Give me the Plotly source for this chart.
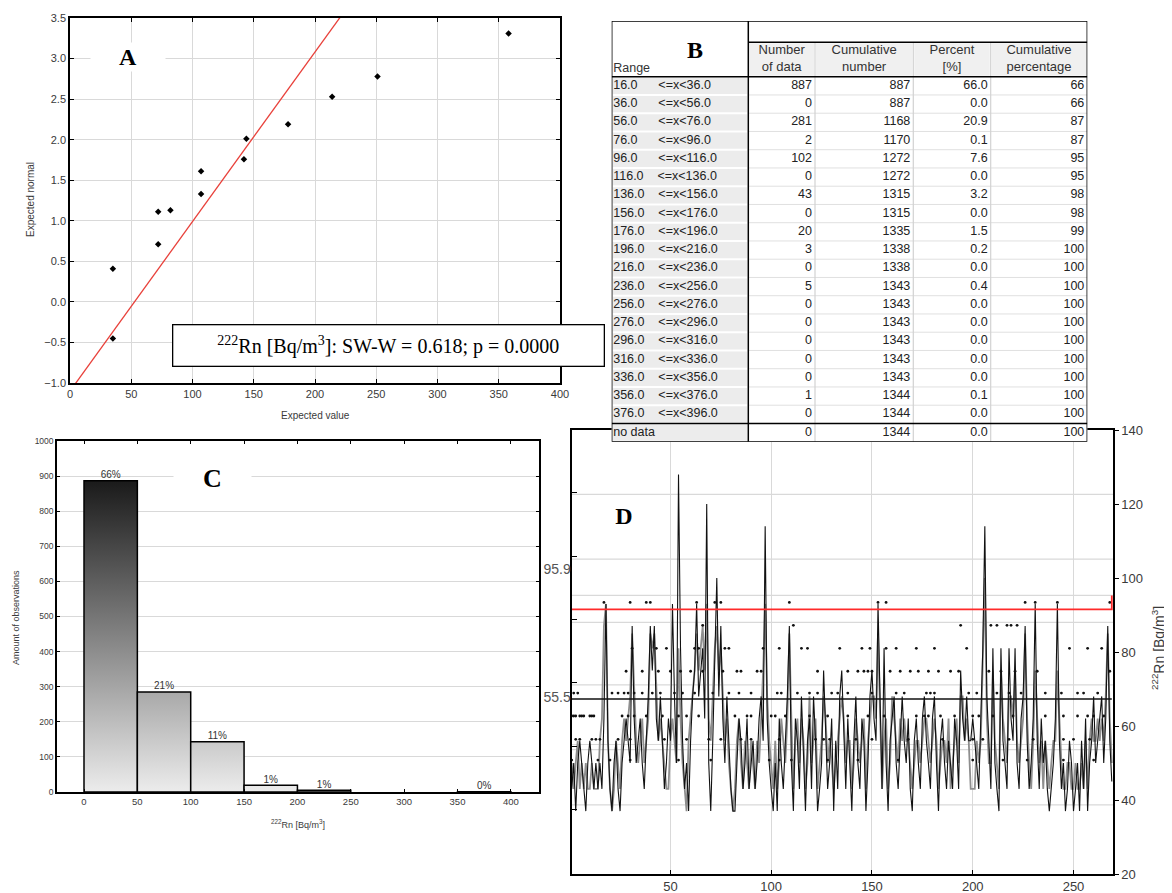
import plotly.graph_objects as go

# the page puts the figure 8px in from the top-left corner
PAGE_W, PAGE_H, OFF = 1172, 893, 8
W, H = PAGE_W - OFF, PAGE_H - OFF
SANS = "Liberation Sans, Arial, sans-serif"
SERIF = "Liberation Serif, Times New Roman, serif"
GRID = "#d9d9d9"
TXT = "#3a3a3a"

# ---- A: normal probability plot
pp_value = [35, 35, 72, 72, 82, 107, 107, 142, 144, 178, 214, 251, 358]
pp_normal = [0.41, -0.45, 1.11, 0.71, 1.13, 1.61, 1.33, 1.76, 2.01, 2.19, 2.53, 2.78, 3.31]
ref_intercept = -1.10
ref_slope = 0.0209
sw_text = "<sup>222</sup>Rn [Bq/m<sup>3</sup>]: SW-W = 0.618; p = 0.0000"

# ---- B: frequency table
rng_lo = [16, 36, 56, 76, 96, 116, 136, 156, 176, 196, 216, 236, 256, 276, 296, 316, 336, 356, 376]
n_data = [887, 0, 281, 2, 102, 0, 43, 0, 20, 3, 0, 5, 0, 0, 0, 0, 0, 1, 0, 0]
cum_n = [887, 887, 1168, 1170, 1272, 1272, 1315, 1315, 1335, 1338, 1338, 1343, 1343, 1343, 1343, 1343, 1343, 1344, 1344, 1344]
pct = [66.0, 0.0, 20.9, 0.1, 7.6, 0.0, 3.2, 0.0, 1.5, 0.2, 0.0, 0.4, 0.0, 0.0, 0.0, 0.0, 0.0, 0.1, 0.0, 0.0]
cum_pct = [66, 66, 87, 87, 95, 95, 98, 98, 99, 100, 100, 100, 100, 100, 100, 100, 100, 100, 100, 100]
col_heads = ["Number<br>of data", "Cumulative<br>number", "Percent<br>[%]", "Cumulative<br>percentage"]

# ---- C: histogram
bin_lo = [0, 50, 100, 150, 200, 250, 300, 350]
bin_hi = [50, 100, 150, 200, 250, 300, 350, 400]
bin_n = [887, 285, 143, 19, 5, 0, 0, 1]
bin_lab = ["66%", "21%", "11%", "1%", "1%", "", "", "0%"]

# ---- D: time series
series_black = [
    43, 50, 37, 50, 56, 50, 43, 37, 50, 56, 50, 43, 50, 43, 50, 43, 62, 93, 56, 43,
    37, 50, 56, 43, 37, 50, 56, 62, 56, 50, 87, 62, 50, 56, 62, 50, 43, 56, 68, 87,
    75, 87, 62, 56, 68, 56, 43, 50, 62, 56, 93, 68, 50, 128, 81, 56, 43, 50, 37, 56,
    68, 75, 93, 68, 75, 81, 62, 120, 50, 37, 56, 75, 100, 68, 87, 62, 50, 68, 56, 43,
    37, 37, 50, 62, 56, 43, 50, 62, 43, 50, 56, 43, 50, 62, 68, 56, 114, 62, 50, 43,
    37, 50, 37, 62, 50, 43, 56, 68, 87, 50, 37, 62, 56, 43, 68, 50, 37, 56, 62, 43,
    68, 56, 37, 43, 50, 75, 56, 43, 50, 62, 37, 56, 43, 68, 75, 56, 43, 62, 50, 37,
    56, 68, 50, 43, 62, 56, 37, 50, 68, 75, 62, 56, 93, 68, 43, 81, 50, 37, 56, 62,
    68, 50, 43, 56, 68, 56, 50, 62, 43, 37, 56, 62, 50, 43, 62, 68, 56, 50, 43, 62,
    68, 50, 37, 56, 62, 50, 43, 56, 50, 43, 62, 56, 43, 75, 62, 56, 68, 56, 56, 62,
    56, 50, 43, 62, 81, 114, 68, 56, 43, 81, 50, 43, 37, 81, 56, 50, 43, 81, 62, 56,
    81, 50, 43, 62, 68, 87, 56, 43, 50, 62, 93, 56, 43, 62, 50, 56, 43, 37, 43, 50,
    62, 93, 56, 43, 50, 37, 43, 56, 50, 37, 43, 50, 37, 56, 43, 62, 37, 50, 56, 68,
    50, 56, 62, 68, 50, 62, 87, 56, 45,
]
series_gray = [
    50, 43, 50, 56, 43, 50, 43, 50, 43, 43, 50, 43, 43, 43, 56, 62, 87, 93, 56, 43,
    37, 43, 56, 50, 43, 56, 62, 56, 62, 68, 85, 68, 56, 50, 56, 62, 50, 56, 62, 85,
    81, 85, 68, 56, 62, 56, 50, 43, 43, 56, 62, 56, 50, 81, 62, 50, 43, 37, 56, 62,
    68, 75, 85, 75, 81, 87, 75, 93, 62, 56, 68, 81, 87, 75, 81, 68, 56, 62, 50, 43,
    37, 43, 56, 62, 50, 43, 56, 50, 43, 56, 50, 43, 56, 50, 62, 75, 93, 68, 56, 50,
    43, 56, 43, 50, 62, 56, 50, 62, 85, 62, 43, 56, 62, 50, 62, 56, 43, 50, 68, 50,
    56, 62, 43, 50, 56, 68, 62, 50, 56, 50, 43, 50, 56, 62, 68, 62, 50, 56, 56, 43,
    50, 62, 56, 50, 56, 62, 43, 56, 62, 68, 68, 62, 85, 62, 43, 56, 62, 43, 50, 68,
    62, 56, 50, 62, 56, 62, 56, 56, 50, 43, 50, 56, 56, 50, 56, 62, 62, 56, 50, 56,
    62, 56, 43, 50, 56, 56, 50, 62, 43, 50, 56, 62, 50, 68, 68, 56, 62, 56, 43, 43,
    43, 56, 50, 56, 75, 100, 62, 50, 50, 75, 56, 50, 43, 75, 62, 56, 50, 68, 68, 62,
    75, 56, 50, 56, 62, 85, 62, 50, 43, 56, 75, 62, 50, 56, 43, 56, 50, 43, 50, 56,
    56, 75, 62, 50, 43, 43, 50, 50, 43, 43, 50, 43, 43, 50, 43, 56, 43, 56, 62, 56,
    56, 62, 56, 62, 56, 68, 85, 62, 50,
]
dot_levels = [93.4, 87.2, 81.0, 74.8, 68.9, 62.7, 56.4, 50.8]
dot_x = [
    [17, 30, 38, 40, 63, 72, 75, 109, 153, 157, 226, 231, 242, 268],
    [66, 111, 194, 209, 212, 217, 219, 222],
    [31, 43, 48, 62, 64, 77, 79, 96, 104, 115, 118, 134, 145, 149, 157, 162, 172, 181, 197, 248, 257, 264],
    [28, 36, 44, 50, 55, 60, 66, 76, 83, 85, 93, 95, 123, 138, 143, 146, 148, 150, 159, 164, 169, 173,
     178, 183, 189, 193, 208, 214, 221, 232, 268],
    [2, 4, 21, 24, 27, 29, 32, 36, 41, 45, 52, 56, 62, 71, 79, 84, 90, 103, 105, 113, 119, 123, 130,
     133, 138, 150, 162, 166, 177, 179, 181, 198, 202, 212, 218, 224, 236, 244, 252, 255, 262],
    [1, 2, 3, 5, 6, 7, 10, 11, 12, 26, 29, 32, 38, 46, 54, 58, 64, 82, 88, 90, 100, 102, 107, 119, 128,
     138, 148, 156, 172, 176, 178, 184, 191, 200, 203, 210, 220, 236, 245, 252, 257, 260, 265],
    [3, 5, 11, 13, 15, 24, 30, 47, 58, 69, 75, 85, 90, 104, 122, 126, 129, 142, 150, 168, 185, 200,
     205, 218, 230, 245, 250, 258],
    [1, 14, 20, 30, 54, 70, 99, 104, 110, 128, 143, 163, 200, 215, 227, 245, 260],
]
upper_limit = 91.5
upper_limit_end = 95.3
mean_level = 67.3
guide_levels = [122.6, 105.1, 95.3, 88.0, 71.1, 55.0, 53.6, 38.7]
left_tick_vals = [95.9, 55.5]


def px_x(a, b):
    return [(a - OFF) / W, (b - OFF) / W]


def px_y(top, bottom):
    return [1 - (bottom - OFF) / H, 1 - (top - OFF) / H]


def note(x, y, text, size=10, family=SANS, color=TXT, **kw):
    kw.setdefault("xanchor", "center")
    kw.setdefault("yanchor", "middle")
    fig.add_annotation(x=(x - OFF) / W, y=1 - (y - OFF) / H, xref="paper", yref="paper",
                       text=text, showarrow=False,
                       font=dict(family=family, size=size, color=color), **kw)


fig = go.Figure()

# A
fig.add_trace(go.Scatter(
    x=[0, 400], y=[ref_intercept, ref_intercept + ref_slope * 400],
    mode="lines", line=dict(color="#e8403a", width=1.3),
    xaxis="x", yaxis="y", hoverinfo="skip"))
fig.add_trace(go.Scatter(
    x=pp_value, y=pp_normal, mode="markers",
    marker=dict(color="black", size=5, symbol="diamond"),
    xaxis="x", yaxis="y"))

# C: bars with vertical gradient
for lo, hi, n in zip(bin_lo, bin_hi, bin_n):
    if n <= 0:
        continue
    fig.add_trace(go.Scatter(
        x=[lo, lo, hi, hi, lo], y=[0, n, n, 0, 0],
        mode="lines", fill="toself",
        fillgradient=dict(type="vertical", start=0, stop=887,
                          colorscale=[[0, "#ececec"], [1, "#1a1a1a"]]),
        line=dict(color="black", width=1.5),
        xaxis="x2", yaxis="y2", hoverinfo="skip"))
lab = [((lo + hi) / 2, n, t) for lo, hi, n, t in zip(bin_lo, bin_hi, bin_n, bin_lab) if t]
fig.add_trace(go.Scatter(
    x=[a for a, _, _ in lab], y=[b for _, b, _ in lab], text=[t for _, _, t in lab],
    mode="text", textposition="top center",
    textfont=dict(family=SANS, size=10, color="#333"),
    xaxis="x2", yaxis="y2", hoverinfo="skip"))

# D
days = list(range(1, len(series_black) + 1))
fig.add_trace(go.Scatter(
    x=days, y=series_gray, mode="lines",
    line=dict(color="#8e8e8e", width=1.8), xaxis="x3", yaxis="y3"))
fig.add_trace(go.Scatter(
    x=days, y=series_black, mode="lines",
    line=dict(color="#111", width=1.1), xaxis="x3", yaxis="y3"))
dx, dy = [], []
for lev, xs in zip(dot_levels, dot_x):
    dx += xs
    dy += [lev] * len(xs)
fig.add_trace(go.Scatter(
    x=dx, y=dy, mode="markers", marker=dict(color="#111", size=2.8),
    xaxis="x3", yaxis="y3"))
fig.add_trace(go.Scatter(
    x=[1, days[-1], days[-1]], y=[upper_limit, upper_limit, upper_limit_end],
    mode="lines", line=dict(color="#ff2a2a", width=1.8), xaxis="x3", yaxis="y3"))
fig.add_trace(go.Scatter(
    x=[1, days[-1]], y=[mean_level, mean_level],
    mode="lines", line=dict(color="#111", width=1.6), xaxis="x3", yaxis="y3"))
fig.add_trace(go.Scatter(x=[None], y=[None], xaxis="x3", yaxis="y4", hoverinfo="skip"))
for g in guide_levels:
    fig.add_shape(type="line", xref="x3 domain", yref="y3", x0=0, x1=1, y0=g, y1=g,
                  line=dict(color=GRID, width=1.2), layer="below")

# B: table drawn on its own pixel-unit axes
T_LEFT, T_RIGHT, T_TOP, T_MID, T_HEAD, ROW_H = 611.7, 1087.3, 21.0, 42.3, 76.7, 18.25
col_edges = [611.7, 748.3, 815.0, 913.3, 990.7, 1087.3]
n_rows = len(n_data)
T_BOT = T_HEAD + n_rows * ROW_H
tref = dict(xref="x4", yref="y5")

fig.add_shape(type="rect", x0=T_LEFT, x1=T_RIGHT, y0=T_TOP, y1=T_BOT,
              fillcolor="white", line=dict(width=0), layer="below", **tref)
for j in range(1, 5):
    fig.add_shape(type="rect", x0=col_edges[j] + 1, x1=col_edges[j + 1] - 1,
                  y0=T_MID + 1, y1=T_HEAD - 1, fillcolor="#f0f0f0",
                  line=dict(width=0), layer="below", **tref)
for i in range(n_rows):
    r0 = T_HEAD + i * ROW_H
    fig.add_shape(type="rect", x0=T_LEFT + 1, x1=col_edges[1] - 1, y0=r0 + 1, y1=r0 + ROW_H - 1,
                  fillcolor="#ececec", line=dict(width=0), layer="below", **tref)
    if i > 0:
        fig.add_shape(type="line", x0=col_edges[1], x1=T_RIGHT, y0=r0, y1=r0,
                      line=dict(color="#e0e0e0", width=1), layer="below", **tref)
for xe in col_edges[2:5]:
    fig.add_shape(type="line", x0=xe, x1=xe, y0=T_MID, y1=T_BOT,
                  line=dict(color="#d2d2d2", width=1.2), layer="below", **tref)
black = dict(color="black", width=1.5)
fig.add_shape(type="rect", x0=T_LEFT, x1=T_RIGHT, y0=T_TOP, y1=T_BOT, line=black, layer="below", **tref)
fig.add_shape(type="line", x0=col_edges[1], x1=T_RIGHT, y0=T_MID, y1=T_MID, line=black, layer="below", **tref)
fig.add_shape(type="line", x0=T_LEFT, x1=T_RIGHT, y0=T_HEAD, y1=T_HEAD, line=black, layer="below", **tref)
fig.add_shape(type="line", x0=T_LEFT, x1=T_RIGHT, y0=T_BOT - ROW_H, y1=T_BOT - ROW_H,
              line=black, layer="below", **tref)
fig.add_shape(type="line", x0=col_edges[1], x1=col_edges[1], y0=T_TOP, y1=T_BOT, line=black,
              layer="below", **tref)

row_y = [T_HEAD + (i + 0.5) * ROW_H for i in range(n_rows)]
ranges = [f"{lo:.1f}" + "\u00a0" * (6 if lo < 100 else 4) + f"<=x<{lo + 20:.1f}" for lo in rng_lo]
ranges.append("no data")
cell_font = dict(family=SANS, size=12.5, color="#222")
fig.add_trace(go.Scatter(x=[T_LEFT + 1.5] * n_rows, y=row_y, text=ranges, mode="text",
                         textposition="middle right", textfont=cell_font, cliponaxis=False,
                         xaxis="x4", yaxis="y5", hoverinfo="skip"))
for j, col in enumerate([n_data, cum_n, [f"{p:.1f}" for p in pct], cum_pct]):
    fig.add_trace(go.Scatter(x=[col_edges[j + 2] - 3] * n_rows, y=row_y,
                             text=[str(v) for v in col], mode="text",
                             textposition="middle left", textfont=cell_font, cliponaxis=False,
                             xaxis="x4", yaxis="y5", hoverinfo="skip"))
fig.add_trace(go.Scatter(x=[(col_edges[j + 1] + col_edges[j + 2]) / 2 for j in range(4)],
                         y=[(T_MID + T_HEAD) / 2] * 4, text=col_heads, mode="text",
                         textposition="middle center",
                         textfont=dict(family=SANS, size=13, color="#333"), cliponaxis=False,
                         xaxis="x4", yaxis="y5", hoverinfo="skip"))
fig.add_trace(go.Scatter(x=[T_LEFT + 1.5], y=[T_HEAD - 8], text=["Range"], mode="text",
                         textposition="middle right",
                         textfont=dict(family=SANS, size=12.5, color="#333"), cliponaxis=False,
                         xaxis="x4", yaxis="y5", hoverinfo="skip"))

tick_font = dict(family=SANS, size=11, color=TXT)
frame_axis = dict(showline=True, linecolor="black", linewidth=1.5, zeroline=False,
                  tickcolor="black", automargin=False)
fig.update_layout(
    width=W, height=H, margin=dict(l=0, r=0, t=0, b=0, autoexpand=False),
    paper_bgcolor="white", plot_bgcolor="white", showlegend=False,
    xaxis=dict(domain=px_x(70, 560), range=[0, 400], dtick=50, tick0=0,
               showgrid=True, gridcolor=GRID, mirror="ticks",
               ticks="inside", ticklen=4, tickfont=tick_font, anchor="y", **frame_axis),
    yaxis=dict(domain=px_y(18, 383), range=[-1, 3.5], dtick=0.5, tick0=0,
               tickformat=".1f", showgrid=True, gridcolor=GRID, mirror="ticks",
               ticks="inside", ticklen=4, tickfont=tick_font, anchor="x", **frame_axis),
    xaxis2=dict(domain=px_x(57, 538.6), range=[-25.3, 426], dtick=50, tick0=0,
                showgrid=False, mirror="ticks", ticks="inside", ticklen=3,
                tickfont=dict(family=SANS, size=9.5, color=TXT), anchor="y2", **frame_axis),
    yaxis2=dict(domain=px_y(441, 792), range=[0, 1000], dtick=100,
                showgrid=True, gridcolor=GRID, mirror="ticks", ticks="inside", ticklen=3,
                tickfont=dict(family=SANS, size=8.5, color=TXT), anchor="x2", **frame_axis),
    xaxis3=dict(domain=px_x(571.7, 1113), range=[1, 269.6],
                tickvals=[50, 100, 150, 200, 250],
                showgrid=True, gridcolor=GRID, mirror=True,
                ticks="inside", ticklen=4,
                tickfont=dict(family=SANS, size=13, color=TXT), anchor="y3", **frame_axis),
    yaxis3=dict(domain=px_y(430, 874), range=[20, 140], dtick=20, side="right",
                showgrid=False, mirror=True, ticks="outside", ticklen=4,
                tickfont=dict(family=SANS, size=13, color=TXT), anchor="x3", **frame_axis),
    yaxis4=dict(overlaying="y3", side="left", range=[-0.4, 139.8],
                tickvals=left_tick_vals, ticktext=[f"{v:.1f}" for v in left_tick_vals],
                ticks="", showgrid=False, zeroline=False, showline=False, automargin=False,
                minor=dict(tickvals=[20, 40, 60, 80, 100, 120], ticks="inside",
                           ticklen=5, tickcolor="black"),
                tickfont=dict(family=SANS, size=14, color="#555"), anchor="x3"),
    xaxis4=dict(domain=px_x(T_LEFT, T_RIGHT), range=[T_LEFT, T_RIGHT], visible=False,
                automargin=False, anchor="y5"),
    yaxis5=dict(domain=px_y(T_TOP, T_BOT), range=[T_BOT, T_TOP], visible=False,
                automargin=False, anchor="x4"),
)

# axis titles
note(30, 200, "Expected normal", textangle=-90)
note(315, 415, "Expected value")
note(16, 618, "Amount of observations", size=9, textangle=-90)
note(298, 824, "<sup>222</sup>Rn [Bq/m<sup>3</sup>]", size=9)
note(1158, 648, "<sup>222</sup>Rn [Bq/m<sup>3</sup>]", size=14, textangle=-90)

# panel letters and stats box
note(128, 57, "<b>A</b>", size=24, family=SERIF, color="black", bgcolor="white", width=72)
note(695, 50, "<b>B</b>", size=24, family=SERIF, color="black")
note(212, 478, "<b>C</b>", size=26, family=SERIF, color="black", bgcolor="white", width=75)
note(624, 516, "<b>D</b>", size=24, family=SERIF, color="black", bgcolor="white", width=72)
note(172, 345, sw_text, size=20, family=SERIF, color="black", xanchor="left", align="center",
     bgcolor="white", bordercolor="black", borderwidth=1.3, width=428, height=38)

fig.write_html("out.html")
